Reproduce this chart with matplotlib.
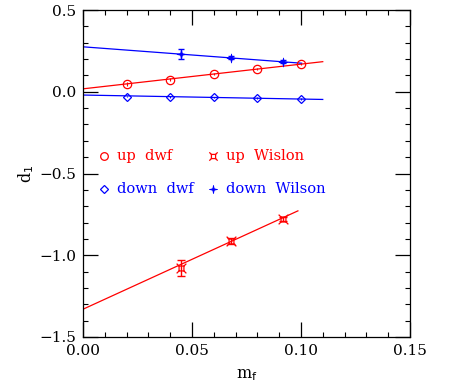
import numpy as np
import matplotlib
matplotlib.use("Agg")
import matplotlib.pyplot as plt
from matplotlib.path import Path
from matplotlib.ticker import MultipleLocator

plt.rcParams['font.family'] = ['DejaVu Serif']

# data
mf_dwf = [0.02, 0.04, 0.06, 0.08, 0.10]
up_dwf = [0.047, 0.075, 0.108, 0.140, 0.167]
up_dwf_err = [0.010, 0.008, 0.007, 0.006, 0.006]
down_dwf = [-0.029, -0.032, -0.035, -0.039, -0.045]
down_dwf_err = [0.006, 0.005, 0.005, 0.005, 0.005]

mf_wil = [0.0448, 0.0680, 0.0918]
up_wil = [-1.080, -0.915, -0.778]
up_wil_err = [0.049, 0.018, 0.010]
down_wil = [0.230, 0.208, 0.184]
down_wil_err = [0.030, 0.010, 0.010]

# linear fits (intercept, slope, x-range end)
fit_up_dwf = (0.018, 1.51, 0.11)
fit_down_dwf = (-0.020, -0.245, 0.11)
fit_up_wil = (-1.330, 6.10, 0.0986)
fit_down_wil = (0.275, -1.00, 0.1003)

red = '#ff0000'
blue = '#0000ff'

# custom markers
star4 = Path([(0, 1), (0.18, 0.18), (1, 0), (0.18, -0.18), (0, -1), (-0.18, -0.18),
              (-1, 0), (-0.18, 0.18), (0, 1)],
             [Path.MOVETO] + [Path.LINETO] * 7 + [Path.CLOSEPOLY])
sq_verts = [(-0.5, -0.5), (0.5, -0.5), (0.5, 0.5), (-0.5, 0.5), (-0.5, -0.5),
            (-0.5, -0.5), (-1, -1), (0.5, -0.5), (1, -1), (0.5, 0.5), (1, 1), (-0.5, 0.5), (-1, 1)]
sq_codes = [Path.MOVETO] + [Path.LINETO] * 4 + [Path.MOVETO, Path.LINETO] * 4
sqx = Path(sq_verts, sq_codes)

fig = plt.figure(figsize=(4.59, 3.86), dpi=100)
ax = fig.add_axes([0.181, 0.127, 0.712, 0.847])

def fitline(fit, color):
    b, m, xe = fit
    xs = np.array([0.0, xe])
    ax.plot(xs, b + m * xs, color=color, lw=0.9)

fitline(fit_up_dwf, red)
fitline(fit_down_dwf, blue)
fitline(fit_up_wil, red)
fitline(fit_down_wil, blue)

ax.errorbar(mf_dwf, up_dwf, yerr=up_dwf_err, fmt='o', ms=6, mfc='none', mec=red,
            mew=0.9, ecolor=red, elinewidth=0.8, capsize=0)
ax.errorbar(mf_dwf, down_dwf, yerr=down_dwf_err, fmt='D', ms=4.3, mfc='none', mec=blue,
            mew=0.9, ecolor=blue, elinewidth=0.8, capsize=0)
ax.errorbar(mf_wil, up_wil, yerr=up_wil_err, fmt='none', ecolor=red, elinewidth=1.0,
            capsize=3, capthick=1.0)
ax.plot(mf_wil, up_wil, linestyle='none', marker=sqx, ms=7, mfc='none', mec=red, mew=0.9)
ax.errorbar(mf_wil, down_wil, yerr=down_wil_err, fmt='none', ecolor=blue, elinewidth=1.0,
            capsize=2, capthick=1.0)
ax.plot(mf_wil, down_wil, linestyle='none', marker=star4, ms=6.5, mfc=blue, mec=blue, mew=0.5)

# in-plot legend
ax.plot([0.0095], [-0.39], marker='o', ms=5.5, mfc='none', mec=red, mew=0.9)
ax.text(0.0155, -0.39, 'up  dwf', color=red, fontsize=10.5, va='center')
ax.plot([0.0095], [-0.594], marker='D', ms=4, mfc='none', mec=blue, mew=0.9)
ax.text(0.0155, -0.594, 'down  dwf', color=blue, fontsize=10.5, va='center')
ax.plot([0.0595], [-0.39], marker=sqx, ms=6, mfc='none', mec=red, mew=0.9)
ax.text(0.0655, -0.39, 'up  Wislon', color=red, fontsize=10.5, va='center')
ax.plot([0.0595], [-0.594], marker=star4, ms=6, mfc=blue, mec=blue, mew=0.5)
ax.text(0.0655, -0.594, 'down  Wilson', color=blue, fontsize=10.5, va='center')

ax.set_xlim(0, 0.15)
ax.set_ylim(-1.5, 0.5)
ax.xaxis.set_major_locator(MultipleLocator(0.05))
ax.xaxis.set_minor_locator(MultipleLocator(0.01))
ax.yaxis.set_major_locator(MultipleLocator(0.5))
ax.yaxis.set_minor_locator(MultipleLocator(0.1))
ax.tick_params(which='both', direction='in', top=True, right=True, labelsize=11)
ax.tick_params(which='major', length=11, width=0.9, pad=5)
ax.tick_params(which='minor', length=3.7, width=0.8)
ax.xaxis.set_major_formatter(matplotlib.ticker.FuncFormatter(lambda v, p: f'{v:.2f}'))
ax.yaxis.set_major_formatter(matplotlib.ticker.FuncFormatter(lambda v, p: f'{v:.1f}'.replace('-', '\u2212')))
for s in ax.spines.values():
    s.set_linewidth(0.9)

ax.set_xlabel(r'm$_{\rm f}$', fontsize=11.5, labelpad=6)
ax.set_ylabel(r'd$_1$', fontsize=11.5, labelpad=2)

fig.savefig('out.png', dpi=100)
